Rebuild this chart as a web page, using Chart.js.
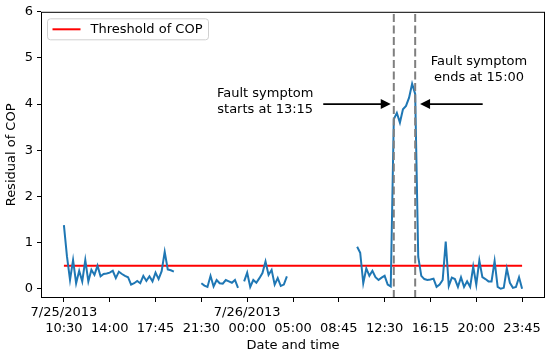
<!DOCTYPE html>
<html>
<head>
<meta charset="utf-8">
<script src="https://cdn.jsdelivr.net/npm/chart.js@4"></script>
<style>
  html, body { margin: 0; padding: 0; background: #fff; }
  #wrap { width: 550px; height: 354px; }
</style>
</head>
<body>
<div id="wrap"><canvas id="copChart"></canvas></div>
<script>
// residual of COP, one value per sample (null = missing data)
const copResidual = [
  1.38, 0.70, 0.19, 0.62, 0.12, 0.39, 0.16, 0.62, 0.16, 0.41,
  0.30, 0.50, 0.27, 0.32, 0.33, 0.35, 0.39, 0.23, 0.37, 0.32,
  0.28, 0.25, 0.09, 0.12, 0.17, 0.12, 0.28, 0.17, 0.27, 0.16,
  0.35, 0.21, 0.38, 0.80, 0.42, 0.40, 0.37, null, null, null,
  null, null, null, null, null, 0.12, 0.07, 0.04, 0.28, 0.05,
  0.19, 0.12, 0.11, 0.19, 0.16, 0.13, 0.19, 0.02, null, 0.16,
  0.35, 0.04, 0.19, 0.13, 0.23, 0.34, 0.59, 0.30, 0.41, 0.09,
  0.23, 0.06, 0.09, 0.27, null, null, null, null, null, null,
  null, null, null, null, null, null, null, null, null, null,
  null, null, null, null, null, null, 0.91, 0.78, 0.12, 0.44,
  0.28, 0.39, 0.25, 0.19, 0.24, 0.28, 0.09, 0.05, 3.67, 3.81,
  3.60, 3.89, 3.96, 4.14, 4.44, 4.22, 0.69, 0.28, 0.21, 0.19,
  0.20, 0.22, 0.04, 0.09, 0.19, 1.02, 0.06, 0.24, 0.21, 0.04,
  0.25, 0.04, 0.16, 0.04, 0.48, 0.09, 0.61, 0.25, 0.21, 0.16,
  0.16, 0.60, 0.04, 0.00, 0.02, 0.44, 0.13, 0.02, 0.04, 0.25,
  0.00
];
const threshold = 0.5;

const tickIndex = [0, 15, 30, 45, 60, 75, 90, 105, 120, 135, 150];
const tickTimes = ['10:30', '14:00', '17:45', '21:30', '00:00', '05:00', '08:45', '12:30', '16:15', '20:00', '23:45'];
const tickDates = ['7/25/2013', '', '', '', '7/26/2013', '', '', '', '', '', ''];
const yTicks = [0, 1, 2, 3, 4, 5, 6];

const faultStart = 108;   // 13:15
const faultEnd = 115;     // 15:00

Chart.defaults.font.family = 'DejaVu Sans';
Chart.defaults.font.size = 13;
Chart.defaults.color = '#000';

const copPoints = copResidual.map((v, i) => ({ x: i, y: v }));
const thresholdPoints = copResidual.map((v, i) => ({ x: i, y: threshold }));

function arrow(ctx, x1, y1, x2, y2) {
  const dir = Math.sign(x2 - x1);
  ctx.strokeStyle = '#000';
  ctx.fillStyle = '#000';
  ctx.lineWidth = 1.6;
  ctx.setLineDash([]);
  ctx.beginPath();
  ctx.moveTo(x1, y1);
  ctx.lineTo(x2 - dir * 8, y2);
  ctx.stroke();
  ctx.beginPath();
  ctx.moveTo(x2, y2);
  ctx.lineTo(x2 - dir * 10, y2 - 5);
  ctx.lineTo(x2 - dir * 10, y2 + 5);
  ctx.closePath();
  ctx.fill();
}

const overlay = {
  id: 'overlay',
  afterDatasetsDraw(chart) {
    const { ctx, chartArea: a, scales: { x, y } } = chart;
    ctx.save();

    // fault start / end markers
    ctx.strokeStyle = '#7f7f7f';
    ctx.lineWidth = 2;
    ctx.setLineDash([8, 3.5]);
    [faultStart, faultEnd].forEach(v => {
      const px = x.getPixelForValue(v);
      ctx.beginPath();
      ctx.moveTo(px, a.bottom);
      ctx.lineTo(px, a.top);
      ctx.stroke();
    });

    // annotations
    const ay = y.getPixelForValue(4.0);
    arrow(ctx, x.getPixelForValue(84.9), ay, x.getPixelForValue(107.0), ay);
    arrow(ctx, x.getPixelForValue(137.1), ay, x.getPixelForValue(116.6), ay);

    ctx.fillStyle = '#000';
    ctx.font = '13px "DejaVu Sans"';
    ctx.textAlign = 'center';
    ctx.textBaseline = 'middle';
    let cx = x.getPixelForValue(65.9), cy = y.getPixelForValue(4.06);
    ctx.fillText('Fault symptom', cx, cy - 8);
    ctx.fillText('starts at 13:15', cx, cy + 8);
    cx = x.getPixelForValue(135.9); cy = y.getPixelForValue(4.75);
    ctx.fillText('Fault symptom', cx, cy - 8);
    ctx.fillText('ends at 15:00', cx, cy + 8);

    // legend box
    const ds = chart.data.datasets[1];
    const lx = a.left + 6.5, ly = a.top + 7, lw = 161, lh = 21;
    ctx.setLineDash([]);
    ctx.fillStyle = 'rgba(255,255,255,0.8)';
    ctx.strokeStyle = '#d0d0d0';
    ctx.lineWidth = 1;
    ctx.beginPath();
    ctx.roundRect(lx, ly, lw, lh, 3);
    ctx.fill();
    ctx.stroke();
    ctx.strokeStyle = ds.borderColor;
    ctx.lineWidth = 2;
    ctx.beginPath();
    ctx.moveTo(lx + 5, ly + lh / 2);
    ctx.lineTo(lx + 33, ly + lh / 2);
    ctx.stroke();
    ctx.fillStyle = '#000';
    ctx.textAlign = 'left';
    ctx.fillText(ds.label, lx + 43, ly + lh / 2 + 0.5);

    // frame
    ctx.strokeStyle = '#000';
    ctx.lineWidth = 1;
    ctx.strokeRect(a.left + 0.5, a.top + 0.5, a.right - a.left - 1, a.bottom - a.top - 1);
    ctx.restore();
  }
};

const copChart = new Chart(document.getElementById('copChart'), {
  type: 'line',
  data: {
    datasets: [
      {
        label: 'Residual of COP',
        data: copPoints,
        borderColor: '#1f77b4',
        borderWidth: 2,
        pointRadius: 0,
        spanGaps: false,
        tension: 0
      },
      {
        label: 'Threshold of COP',
        data: thresholdPoints,
        borderColor: '#ff0000',
        borderWidth: 2,
        pointRadius: 0,
        tension: 0
      }
    ]
  },
  options: {
    responsive: true,
    maintainAspectRatio: false,
    animation: false,
    layout: { padding: { left: 0, right: 5, top: 10, bottom: 0 } },
    plugins: {
      legend: { display: false },
      tooltip: { enabled: false }
    },
    scales: {
      x: {
        type: 'linear',
        min: -7.5,
        max: 157.5,
        afterBuildTicks: s => { s.ticks = tickIndex.map(v => ({ value: v })); },
        afterFit: s => { s.height = 56; },
        ticks: {
          padding: 3,
          maxRotation: 0,
          autoSkip: false,
          callback: v => {
            const k = tickIndex.indexOf(v);
            return k < 0 ? '' : [tickDates[k], tickTimes[k]];
          }
        },
        grid: { display: true, drawOnChartArea: false, tickLength: 4, tickColor: '#000', tickWidth: 1 },
        border: { display: false },
        title: { display: true, text: 'Date and time', padding: { top: 0, bottom: 1 } }
      },
      y: {
        min: -0.2,
        max: 6,
        afterBuildTicks: s => { s.ticks = yTicks.map(v => ({ value: v })); },
        afterFit: s => { s.width = 41; },
        ticks: { padding: 4 },
        grid: { display: true, drawOnChartArea: false, tickLength: 4, tickColor: '#000', tickWidth: 1 },
        border: { display: false },
        title: { display: true, text: 'Residual of COP', padding: { top: 4, bottom: 0 } }
      }
    }
  },
  plugins: [overlay]
});
</script>
</body>
</html>
